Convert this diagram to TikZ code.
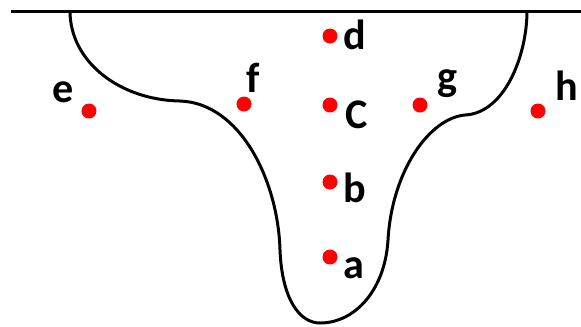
\documentclass[tikz,border=0pt]{standalone}
\usepackage{fontspec}
\setmainfont{Carlito}
\begin{document}
\begin{tikzpicture}[x=0.02cm, y=-0.02cm, line width=1.7pt,
  spot/.style={circle, fill=red, inner sep=0pt, minimum size=0.3cm},
  lbl/.style={anchor=base, inner sep=0pt, font=\fontsize{24}{24}\selectfont\bfseries}]
\useasboundingbox (0,0) rectangle (581,326);
\coordinate (left) at (11,11);
\coordinate (right) at (581,11);
\draw (left) -- (right);
\draw (70,11) .. controls (70,62) and (120,100) .. (180,101)
  .. controls (240,103) and (278,180) .. (280,250)
  .. controls (282,300) and (300,323) .. (320,323)
  .. controls (355,323) and (385,290) .. (388,240)
  .. controls (392,170) and (430,118) .. (465,115)
  .. controls (505,113) and (527,55) .. (527,11);
\node[spot] (pa) at (330,257) {};
\node[spot] (pb) at (330,182) {};
\node[spot] (pc) at (330,105) {};
\node[spot] (pd) at (330,36) {};
\node[spot] (pe) at (89,111) {};
\node[spot] (pf) at (244,104) {};
\node[spot] (pg) at (420,105) {};
\node[spot] (ph) at (538,111) {};
\node[lbl] (la) at (354,278) {a};
\node[lbl] (lb) at (355,202) {b};
\node[lbl] (lc) at (357,128) {C};
\node[lbl] (ld) at (355,49) {d};
\node[lbl] (le) at (63,102) {e};
\node[lbl] (lf) at (253,92) {f};
\node[lbl] (lg) at (447,90) {g};
\node[lbl] (lh) at (567,100) {h};
\end{tikzpicture}
\end{document}
